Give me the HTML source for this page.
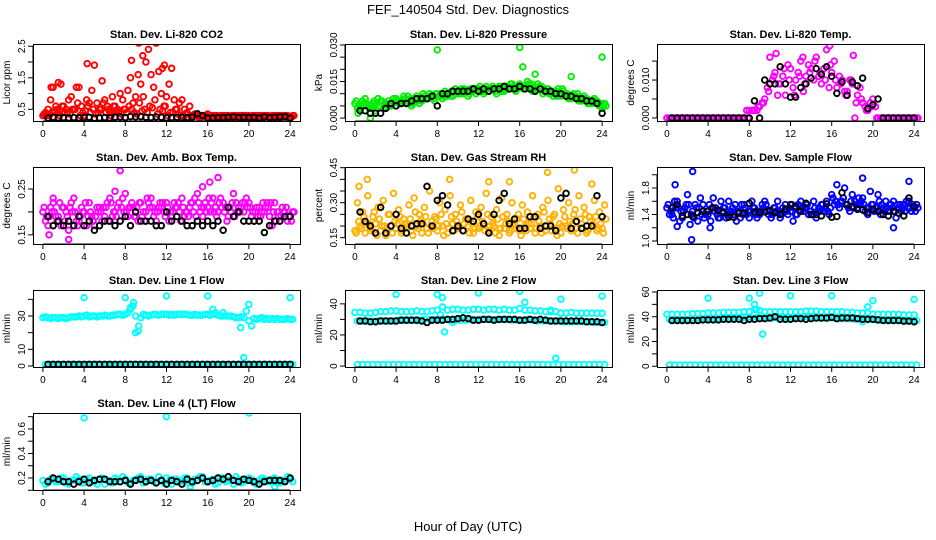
<!DOCTYPE html>
<html><head><meta charset="utf-8"><style>
html,body{margin:0;padding:0;background:#fff;}
svg{display:block;font-family:"Liberation Sans",sans-serif;}
</style></head><body>
<svg id="chart" width="936" height="540" viewBox="0 0 936 540" xmlns="http://www.w3.org/2000/svg">
<rect x="0" y="0" width="936" height="540" fill="#fff"/>
<text x="468" y="14" font-size="13" text-anchor="middle">FEF_140504  Std. Dev. Diagnostics</text>
<text x="468" y="531" font-size="13" text-anchor="middle">Hour of Day (UTC)</text>
</svg>
<script>
const hourTicks = [0,4,8,12,16,20,24];
const titles = ["Stan. Dev. Li-820 CO2","Stan. Dev. Li-820 Pressure","Stan. Dev. Li-820 Temp.","Stan. Dev. Amb. Box Temp.","Stan. Dev. Gas Stream RH","Stan. Dev. Sample Flow","Stan. Dev. Line 1 Flow","Stan. Dev. Line 2 Flow","Stan. Dev. Line 3 Flow","Stan. Dev. Line 4 (LT) Flow"];
const yTitles = ["Licor ppm","kPa","degrees C","degrees C","percent","ml/min","ml/min","ml/min","ml/min","ml/min"];
const yTicks = [[0.5,1,1.5,2,2.5],[0,0.005,0.01,0.015,0.02,0.025,0.03],[0,0.005,0.01,0.015],[0.15,0.2,0.25],[0.15,0.2,0.25,0.3,0.35,0.4,0.45],[1.0,1.2,1.4,1.6,1.8,2.0],[0,10,20,30,40],[0,10,20,30,40],[0,10,20,30,40,50,60],[0.1,0.2,0.3,0.4,0.5,0.6,0.7]];
const yTickLabels = [["0.5","","1.5","","2.5"],["0.000","","","0.015","","","0.030"],["0.000","","0.010",""],["0.15","","0.25"],["0.15","","","0.30","","","0.45"],["1.0","","1.4","","1.8",""],["0","10","","30",""],["0","","20","","40"],["0","","20","","40","","60"],["","0.2","","0.4","","0.6",""]];
const yLims = [[0.13,2.57],[-0.0012,0.0304],[-0.0008,0.0195],[0.130,0.298],[0.123,0.453],[0.955,2.117],[-0.6,45.6],[-0.6,48.9],[-0.6,61.6],[0.102,0.73]];

const co2A=[0.3,0.5,1.2,0.4,0.6,0.8,0.5,1.2,0.3,0.7,1.9,0.5,0.8,0.4,0.6,1.0,0.5,1.5,0.9,1.3,2.0,1.6,2.6,1.0,0.9,1.8,0.5,0.8,0.4,0.3,0.3,0.3,0.35,0.3,0.25,0.3,0.3,0.25,0.3,0.3,0.3,0.25,0.3,0.3,0.25,0.3,0.3,0.3,0.25];
const co2B=[0.4,0.8,0.6,1.3,0.5,0.9,1.2,0.6,0.8,1.1,0.7,1.4,0.6,0.9,0.5,0.8,1.1,0.7,1.6,0.9,2.4,1.2,1.7,0.6,1.3,0.8,0.7,0.5,0.6,0.35,0.3,0.3,0.25,0.3,0.3,0.3,0.25,0.3,0.3,0.3,0.25,0.3,0.3,0.3,0.3,0.25,0.3,0.3,0.3];
const co2C=[0.3,0.4,0.5,0.6,0.4,0.5,0.7,0.4,0.6,0.5,0.4,0.7,0.5,0.6,0.4,0.5,0.6,0.4,0.7,0.5,0.6,0.8,0.5,0.6,0.4,0.5,0.3,0.35,0.3,0.3,0.25,0.3,0.3,0.3,0.3,0.25,0.3,0.3,0.3,0.3,0.3,0.25,0.3,0.3,0.3,0.3,0.3,0.25,0.3];
const co2D=[0.35,0.3,0.45,0.3,0.4,0.35,0.5,0.3,0.45,0.4,0.35,0.5,0.4,0.3,0.45,0.35,0.4,0.5,0.35,0.45,0.4,0.55,0.35,0.45,0.3,0.4,0.35,0.3,0.25,0.3,0.25,0.3,0.25,0.3,0.25,0.3,0.25,0.3,0.25,0.3,0.25,0.3,0.25,0.3,0.25,0.3,0.25,0.3,0.25];
const co2Out=[[4.3,1.95],[9.3,2.6],[9.7,2.2],[8.6,2.05],[11.6,1.8],[11.8,1.9],[0.8,1.2],[1.5,1.35]];
const co2K=[0.22,0.25,0.23,0.24,0.23,0.24,0.23,0.24,0.25,0.22,0.23,0.24,0.23,0.25,0.26,0.24,0.27,0.26,0.27,0.25,0.24,0.26,0.25,0.23,0.24,0.25,0.24,0.24,0.25,0.36,0.3,0.22,0.23,0.24,0.24,0.25,0.26,0.24,0.25,0.24,0.25,0.23,0.26,0.24,0.25,0.26,0.27,0.22];

const prA=[0.006,0.004,0.008,0.005,0.003,0.007,0.006,0.005,0.008,0.006,0.007,0.005,0.009,0.007,0.008,0.009,0.010,0.008,0.010,0.009,0.011,0.010,0.009,0.011,0.012,0.010,0.011,0.012,0.013,0.011,0.012,0.013,0.014,0.012,0.013,0.011,0.012,0.011,0.010,0.011,0.009,0.010,0.008,0.009,0.007,0.008,0.006,0.007,0.004];
const prB=[0.004,0.007,0.005,0.006,0.008,0.004,0.007,0.008,0.006,0.009,0.006,0.008,0.006,0.009,0.010,0.007,0.009,0.011,0.009,0.012,0.010,0.011,0.012,0.010,0.011,0.013,0.012,0.010,0.011,0.013,0.014,0.012,0.013,0.015,0.011,0.014,0.010,0.012,0.009,0.012,0.011,0.008,0.010,0.007,0.009,0.006,0.008,0.005,0.006];
const prC=[0.005,0.006,0.004,0.007,0.005,0.006,0.005,0.007,0.007,0.008,0.008,0.007,0.008,0.008,0.009,0.010,0.010,0.009,0.011,0.010,0.012,0.011,0.011,0.012,0.011,0.012,0.013,0.012,0.012,0.012,0.013,0.013,0.012,0.014,0.012,0.013,0.011,0.010,0.011,0.010,0.010,0.009,0.009,0.008,0.008,0.007,0.007,0.006,0.005];
const prD=[0.007,0.005,0.006,0.004,0.006,0.007,0.005,0.006,0.007,0.007,0.009,0.006,0.007,0.010,0.008,0.008,0.009,0.009,0.010,0.011,0.010,0.012,0.010,0.012,0.013,0.011,0.012,0.011,0.013,0.012,0.014,0.011,0.013,0.013,0.014,0.012,0.013,0.012,0.011,0.009,0.012,0.010,0.009,0.010,0.008,0.006,0.007,0.006,0.005];
const prOut=[[8,0.028],[16,0.029],[24,0.025],[1.5,0.0],[16.3,0.021],[21,0.017],[17.5,0.018],[0.3,0.002]];
const prK=[0.003,0.003,0.002,0.002,0.002,0.004,0.006,0.005,0.006,0.006,0.007,0.008,0.008,0.008,0.009,0.005,0.010,0.010,0.011,0.011,0.011,0.011,0.012,0.011,0.012,0.011,0.012,0.012,0.013,0.012,0.012,0.013,0.012,0.012,0.011,0.012,0.011,0.011,0.010,0.010,0.009,0.009,0.008,0.008,0.007,0.007,0.006,0.002];

const tpA=[0,0,0,0,0,0,0,0,0,0,0,0,0,0,0,0,0.002,0.002,0.003,0.005,0.016,0.012,0.009,0.006,0.013,0.010,0.015,0.011,0.013,0.016,0.009,0.018,0.012,0.008,0.010,0.007,0.009,0.006,0.004,0.002,0.005,0,0,0,0,0,0,0,0];
const tpB=[0,0,0,0,0,0,0,0,0,0,0,0,0,0,0,0.002,0.002,0.002,0.004,0.008,0.010,0.006,0.011,0.014,0.008,0.012,0.007,0.014,0.010,0.011,0.013,0.008,0.015,0.011,0.007,0.010,0,0.008,0.003,0.004,0.003,0,0,0,0,0,0,0,0];
const tpC=[0,0,0,0,0,0,0,0,0,0,0,0,0,0,0,0,0.002,0.003,0.004,0.007,0.011,0.009,0.013,0.010,0.006,0.011,0.009,0.012,0.015,0.012,0.010,0.014,0.010,0.009,0.006,0.010,0.004,0.005,0.002,0.003,0,0,0,0,0,0,0,0,0];
const tpOut=[[10.6,0.017],[13.2,0.016],[15.8,0.019],[18.1,0.0165]];
const tpK=[0,0,0,0,0,0,0,0,0,0,0,0,0,0,0,0,0.0045,0,0.010,0.009,0.009,0.0135,0.009,0.0055,0.0055,0.008,0.009,0.0105,0.013,0.0115,0.0135,0.011,0.0065,0.0095,0.006,0.0095,0.0085,0.0105,0.0025,0.0035,0.005,0,0,0,0,0,0,0];

const abA=[0.20,0.17,0.22,0.19,0.21,0.16,0.23,0.18,0.20,0.22,0.17,0.21,0.19,0.23,0.20,0.18,0.24,0.21,0.19,0.22,0.20,0.23,0.18,0.21,0.22,0.19,0.21,0.23,0.20,0.22,0.24,0.19,0.21,0.23,0.20,0.22,0.19,0.24,0.21,0.20,0.22,0.18,0.21,0.20,0.19,0.22,0.18,0.20,0.19];
const abB=[0.18,0.21,0.19,0.17,0.20,0.22,0.18,0.21,0.17,0.19,0.21,0.18,0.22,0.19,0.21,0.23,0.19,0.21,0.18,0.20,0.22,0.19,0.21,0.20,0.18,0.22,0.20,0.19,0.21,0.23,0.20,0.22,0.20,0.21,0.23,0.21,0.20,0.22,0.21,0.23,0.19,0.21,0.20,0.22,0.17,0.20,0.21,0.18,0.20];
const abC=[0.19,0.20,0.18,0.21,0.19,0.20,0.17,0.20,0.19,0.18,0.20,0.21,0.18,0.20,0.22,0.20,0.21,0.19,0.22,0.18,0.21,0.20,0.22,0.19,0.20,0.21,0.18,0.20,0.22,0.19,0.21,0.20,0.22,0.19,0.21,0.18,0.22,0.20,0.22,0.21,0.20,0.19,0.22,0.21,0.20,0.19,0.20,0.19,0.20];
const abD=[0.21,0.19,0.20,0.22,0.18,0.21,0.20,0.19,0.22,0.20,0.19,0.20,0.21,0.22,0.19,0.21,0.20,0.22,0.21,0.19,0.23,0.21,0.20,0.22,0.21,0.20,0.22,0.21,0.19,0.20,0.22,0.21,0.23,0.20,0.22,0.20,0.21,0.19,0.20,0.22,0.21,0.20,0.19,0.21,0.22,0.18,0.19,0.21,0.18];
const abOut=[[7.5,0.29],[2.5,0.14],[16.2,0.265],[17,0.275],[0.6,0.15],[1,0.23],[7,0.245],[15.5,0.255]];
const abK=[0.19,0.17,0.18,0.17,0.18,0.17,0.19,0.17,0.18,0.16,0.17,0.18,0.18,0.17,0.18,0.19,0.17,0.20,0.18,0.18,0.18,0.17,0.17,0.20,0.18,0.19,0.18,0.17,0.17,0.18,0.17,0.18,0.17,0.18,0.16,0.21,0.19,0.20,0.18,0.18,0.18,0.18,0.155,0.17,0.18,0.18,0.19,0.19];

const rhA=[0.18,0.20,0.17,0.19,0.21,0.18,0.16,0.20,0.19,0.17,0.21,0.18,0.20,0.17,0.19,0.22,0.18,0.20,0.17,0.21,0.19,0.18,0.20,0.17,0.19,0.21,0.18,0.20,0.16,0.19,0.17,0.21,0.18,0.20,0.19,0.17,0.20,0.18,0.21,0.19,0.17,0.20,0.18,0.19,0.21,0.17,0.20,0.18,0.19];
const rhB=[0.30,0.26,0.33,0.24,0.28,0.31,0.25,0.34,0.27,0.23,0.29,0.32,0.25,0.28,0.35,0.24,0.30,0.27,0.33,0.25,0.29,0.23,0.31,0.26,0.28,0.34,0.24,0.27,0.32,0.25,0.30,0.23,0.29,0.26,0.33,0.25,0.28,0.31,0.24,0.36,0.27,0.30,0.25,0.33,0.28,0.24,0.31,0.26,0.29];
const rhC=[0.22,0.24,0.21,0.26,0.23,0.20,0.25,0.22,0.24,0.21,0.23,0.26,0.22,0.24,0.20,0.23,0.25,0.21,0.24,0.22,0.26,0.23,0.21,0.24,0.22,0.25,0.21,0.23,0.24,0.22,0.20,0.25,0.23,0.21,0.24,0.22,0.26,0.23,0.25,0.21,0.24,0.22,0.27,0.23,0.25,0.22,0.24,0.21,0.23];
const rhD=[0.17,0.19,0.21,0.18,0.16,0.20,0.19,0.17,0.21,0.18,0.20,0.16,0.19,0.21,0.17,0.19,0.20,0.16,0.19,0.18,0.20,0.21,0.17,0.19,0.20,0.18,0.20,0.17,0.19,0.21,0.18,0.19,0.16,0.18,0.21,0.19,0.17,0.20,0.18,0.16,0.20,0.19,0.21,0.17,0.19,0.18,0.21,0.19,0.17];
const rhOut=[[1.2,0.40],[9.2,0.40],[13,0.39],[21.3,0.44],[18.7,0.43],[15,0.39],[23,0.38],[0.4,0.37]];
const rhK=[0.26,0.22,0.20,0.17,0.28,0.17,0.20,0.25,0.19,0.17,0.20,0.21,0.21,0.37,0.20,0.31,0.33,0.29,0.18,0.20,0.18,0.23,0.22,0.25,0.21,0.17,0.25,0.31,0.34,0.21,0.23,0.19,0.19,0.24,0.24,0.19,0.20,0.20,0.18,0.32,0.34,0.19,0.22,0.19,0.20,0.20,0.33,0.24];

const sfA=[1.5,1.4,1.6,1.35,1.7,1.45,1.3,1.55,1.4,1.65,1.35,1.5,1.6,1.4,1.45,1.55,1.35,1.5,1.4,1.6,1.45,1.5,1.35,1.55,1.45,1.4,1.6,1.5,1.45,1.35,1.55,1.6,1.7,1.85,1.6,1.55,1.7,1.5,1.65,1.4,1.55,1.7,1.5,1.45,1.6,1.5,1.55,1.6,1.5];
const sfB=[1.4,1.6,1.3,1.5,1.25,1.55,1.65,1.4,1.3,1.5,1.6,1.35,1.45,1.3,1.55,1.4,1.6,1.35,1.55,1.45,1.4,1.6,1.5,1.4,1.3,1.55,1.45,1.4,1.6,1.5,1.45,1.4,1.55,1.5,1.8,1.45,1.6,1.55,1.45,1.75,1.5,1.4,1.6,1.55,1.35,1.45,1.6,1.45,1.55];
const sfC=[1.45,1.5,1.45,1.55,1.4,1.5,1.4,1.45,1.5,1.4,1.45,1.4,1.5,1.45,1.4,1.45,1.5,1.45,1.5,1.4,1.5,1.45,1.45,1.5,1.5,1.45,1.5,1.45,1.5,1.45,1.5,1.5,1.6,1.6,1.55,1.6,1.55,1.6,1.5,1.55,1.5,1.55,1.5,1.5,1.55,1.5,1.5,1.55,1.5];
const sfD=[1.55,1.35,1.5,1.45,1.55,1.35,1.5,1.35,1.55,1.45,1.35,1.5,1.4,1.55,1.35,1.5,1.45,1.4,1.45,1.55,1.35,1.45,1.4,1.45,1.55,1.4,1.5,1.55,1.4,1.45,1.55,1.45,1.65,1.55,1.65,1.5,1.5,1.65,1.55,1.5,1.45,1.6,1.45,1.55,1.45,1.55,1.45,1.5,1.45];
const sfOut=[[2.5,2.05],[2.4,1.02],[0.8,1.85],[19,1.95],[23.5,1.9],[22,1.2],[1,1.22],[4.2,1.2]];
const sfK=[1.5,1.55,1.38,1.4,1.37,1.43,1.45,1.45,1.5,1.46,1.43,1.36,1.36,1.42,1.42,1.57,1.44,1.43,1.44,1.46,1.43,1.40,1.48,1.55,1.52,1.45,1.57,1.40,1.40,1.38,1.56,1.36,1.37,1.73,1.55,1.52,1.48,1.47,1.43,1.48,1.45,1.40,1.38,1.45,1.42,1.38,1.65,1.52];

const l1A=[29,29,29,28.5,29,29,29.5,30,30,29.5,30,30,30.5,30,30.5,31,31,35,30,29,30.5,30.5,31,31,31,31,31,31,31,30.5,30.5,30.5,31,31,30.5,30,30,29.5,29,29,27,28.5,28.5,28,28,28,28,28,28];
const l1B=[29.5,28.5,29,29,28.5,29.5,29.5,29.5,30.5,30,29.5,30,30,30.5,31,30.5,32,36,21,31,30,31,30.5,31,30.5,30.5,31,31,30.5,31,30.5,31,30.5,32,30,30,30,29,29.5,33,24,28,29,28.5,28.5,28.5,28,28.5,28];
const l1Z=[1,1,1,1,1,1,1,1,1,1,1,1,1,1,1,1,1,1,1,1,1,1,1,1,1,1,1,1,1,1,1,1,1,1,1,1,1,1,1,1,1,1,1,1,1,1,1,1,1];
const l1Out=[[4,41],[8,41],[12,42],[16,42],[24,41],[20,37],[8.8,38],[9,20],[9.3,24],[19.5,5],[19.2,23],[16.5,34],[17.5,32],[8.5,34]];
const l1K=[1,1,1,1,1,1,1,1,1,1,1,1,1,1,1,1,1,1,1,1,1,1,1,1,1,1,1,1,1,1,1,1,1,1,1,1,1,1,1,1,1,1,1,1,1,1,1,1];

const l2A=[34.5,34.5,34,34,34.5,35,35,35.5,35.5,35,35,35,35.5,35,35,35.5,36,38,36,36.5,36.5,36,36,36.5,36.5,36,36.5,36.5,36,36.5,36,36,37,36,36,35.5,35.5,35,35,35,34,34,34.5,34,34,34,34,34,34];
const l2B=[29,29,29,29,29,29,29,29,29.5,29.5,29.5,29.5,29.5,30,30,30,30,30,29.5,29.5,29.5,29.5,30,30,30,30,30,30,30,30,29.5,29.5,29.5,30,29.5,29,29,29,29,29,28.5,28.5,28.5,28.5,28.5,28.5,28,28,28];
const l2Z=[1,1,1,1,1,1,1,1,1,1,1,1,1,1,1,1,1,1,1,1,1,1,1,1,1,1,1,1,1,1,1,1,1,1,1,1,1,1,1,1,1,1,1,1,1,1,1,1,1];
const l2Out=[[4,46],[8,46],[8.5,44],[12,47],[16,48],[16.5,41],[20,43],[24,45],[8.7,22],[9.5,28],[19.5,5],[8.3,33],[19,36]];
const l2K=[29,29,28.5,28.5,29,29,29,29,29.5,29.5,29.5,29.5,29,28,29.5,29.5,29.5,30,30,30.5,31,30.5,29.5,29.5,30,30,29.5,30,30,30,30,29.5,29.5,30,29.5,30,29.5,29,29,29,29,29,29,29,28.5,28.5,28.5,28];

const l3A=[42,42,42,42,42,42.5,42.5,42.5,43,43,43,43.5,43.5,43.5,43.5,44,44,46,45,44,44,44,44,44,44,44,44,44.5,44.5,44.5,44,44,44,44,44,43.5,43.5,43,43,43,42,42,42,42,42,42,41.5,41.5,41.5];
const l3B=[38,38,38,38,38,38,38,38,38,38.5,38.5,38.5,38.5,39,39,39,39,39.5,39,39,39,39,39,39,39,39.5,39.5,39.5,39.5,39,39,39,39,38.5,38.5,38.5,38,38,38,38,37.5,37.5,37.5,37.5,37,37,37,37,37];
const l3Z=[1,1,1,1,1,1,1,1,1,1,1,1,1,1,1,1,1,1,1,1,1,1,1,1,1,1,1,1,1,1,1,1,1,1,1,1,1,1,1,1,1,1,1,1,1,1,1,1,1];
const l3Out=[[4,55],[8,55],[8.5,50],[8.7,46],[9,59],[12,57],[16,57],[20,53],[19.5,48],[24,54],[9.3,26],[19,36]];
const l3K=[37,37,37,37,37,37,37.5,37.5,37.5,37.5,38,38,38,38,37,38,38,38.5,38.5,39,40,38,38,38,38.5,38.5,38,38.5,39,39,39,39.5,38.5,39,39,39,38.5,38,38,38,37.5,37,37,37,37,36.5,36.5,36];

const l4A=[0.18,0.16,0.19,0.17,0.20,0.15,0.18,0.19,0.16,0.20,0.17,0.19,0.15,0.18,0.20,0.17,0.19,0.16,0.18,0.21,0.17,0.19,0.16,0.18,0.20,0.15,0.19,0.17,0.20,0.16,0.18,0.21,0.17,0.19,0.16,0.20,0.18,0.15,0.19,0.17,0.20,0.16,0.18,0.19,0.17,0.20,0.16,0.18,0.19];
const l4B=[0.15,0.19,0.17,0.20,0.16,0.18,0.21,0.16,0.19,0.17,0.15,0.20,0.18,0.16,0.19,0.21,0.16,0.18,0.20,0.16,0.19,0.17,0.21,0.16,0.18,0.19,0.17,0.20,0.16,0.19,0.21,0.17,0.18,0.15,0.20,0.17,0.19,0.21,0.16,0.18,0.19,0.15,0.20,0.17,0.19,0.16,0.18,0.21,0.17];
const l4Out=[[4,0.69],[12,0.70],[20,0.73],[14.3,0.13],[22.5,0.13]];
const l4K=[0.17,0.20,0.19,0.17,0.17,0.15,0.17,0.19,0.16,0.18,0.19,0.19,0.17,0.17,0.17,0.18,0.15,0.18,0.19,0.17,0.18,0.16,0.18,0.15,0.18,0.17,0.15,0.19,0.17,0.18,0.20,0.17,0.18,0.20,0.19,0.21,0.18,0.17,0.19,0.18,0.17,0.15,0.17,0.18,0.18,0.18,0.17,0.20];

const panelSeries = [
 [[co2C,0.375,"#ff0000"],[co2D,0.125,"#ff0000"],[co2A,0,"#ff0000"],[co2B,0.25,"#ff0000"]],
 [[prC,0.375,"#00ee00"],[prD,0.125,"#00ee00"],[prA,0,"#00ee00"],[prB,0.25,"#00ee00"]],
 [[tpC,0.375,"#ff00ff"],[tpA,0,"#ff00ff"],[tpB,0.25,"#ff00ff"]],
 [[abC,0.375,"#ff00ff"],[abD,0.125,"#ff00ff"],[abA,0,"#ff00ff"],[abB,0.25,"#ff00ff"]],
 [[rhC,0.375,"#ffb000"],[rhD,0.125,"#ffb000"],[rhA,0,"#ffb000"],[rhB,0.25,"#ffb000"]],
 [[sfC,0.375,"#0000ff"],[sfD,0.125,"#0000ff"],[sfA,0,"#0000ff"],[sfB,0.25,"#0000ff"]],
 [[l1Z,0.25,"#00ffff"],[l1A,0,"#00ffff"],[l1B,0.25,"#00ffff"]],
 [[l2Z,0.25,"#00ffff"],[l2A,0,"#00ffff"],[l2B,0.25,"#00ffff"]],
 [[l3Z,0.25,"#00ffff"],[l3A,0,"#00ffff"],[l3B,0.25,"#00ffff"]],
 [[l4A,0,"#00ffff"],[l4B,0.25,"#00ffff"]]
];
const panelOutliers = [co2Out,prOut,tpOut,abOut,rhOut,sfOut,l1Out,l2Out,l3Out,l4Out];
const panelBlack = [co2K,prK,tpK,abK,rhK,sfK,l1K,l2K,l3K,l4K];
const outColors = ["#ff0000","#00ee00","#ff00ff","#ff00ff","#ffb000","#0000ff","#00ffff","#00ffff","#00ffff","#00ffff"];

const NS="http://www.w3.org/2000/svg";
const svg=document.getElementById('chart');
const colX=[33,345,657], rowY=[44,167,290,413], BW=267, BH=77;
const R=2.8, SW=1.9;

function mk(tag,parent){const e=document.createElementNS(NS,tag);parent.appendChild(e);return e;}

for(let p=0;p<10;p++){
  const bx=colX[p%3], by=rowY[Math.floor(p/3)];
  const [y0,y1]=yLims[p];
  const xs=h=>bx+(h+0.96)/25.92*BW;
  const ys=v=>by+BH-(v-y0)/(y1-y0)*BH;
  const g=mk('g',svg);
  
  
  const clip=mk('clipPath',g); clip.setAttribute('id','c'+p);
  const cr=mk('rect',clip); cr.setAttribute('x',bx);cr.setAttribute('y',by);cr.setAttribute('width',BW);cr.setAttribute('height',BH);
  const t=mk('text',g);
  
  
  t.setAttribute('x',bx+BW/2);t.setAttribute('y',by-6);t.setAttribute('font-size','11');t.setAttribute('font-weight','bold');t.setAttribute('text-anchor','middle');
  t.textContent=titles[p];
  const yt=mk('text',g);
  
  
  yt.setAttribute('font-size','10');yt.setAttribute('text-anchor','middle');
  yt.setAttribute('transform','translate('+(bx-23)+','+(by+BH/2)+') rotate(-90)');
  yt.textContent=yTitles[p];
  const pg=mk('g',g); pg.setAttribute('clip-path','url(#c'+p+')');
  
  
  panelSeries[p].forEach(s=>{
    const [vals,off,col]=s;
    vals.forEach((v,i)=>{
      const c=mk('circle',pg);
      
      
      c.setAttribute('cx',xs(i*0.5+off));c.setAttribute('cy',ys(v));c.setAttribute('r',R);
      c.setAttribute('fill','none');c.setAttribute('stroke',col);c.setAttribute('stroke-width',SW);
    });
  });
  panelOutliers[p].forEach(o=>{
    const c=mk('circle',pg);
    
    
    c.setAttribute('cx',xs(o[0]));c.setAttribute('cy',ys(o[1]));c.setAttribute('r',R);
    c.setAttribute('fill','none');c.setAttribute('stroke',outColors[p]);c.setAttribute('stroke-width',SW);
  });
  panelBlack[p].forEach((v,i)=>{
    const c=mk('circle',pg);
    
    
    c.setAttribute('cx',xs(i*0.5+0.5));c.setAttribute('cy',ys(v));c.setAttribute('r',R);
    c.setAttribute('fill','none');c.setAttribute('stroke','#000');c.setAttribute('stroke-width',SW);
  });
  const b=mk('rect',g);
  
  
  b.setAttribute('x',bx+0.5);b.setAttribute('y',by+0.5);b.setAttribute('width',BW);b.setAttribute('height',BH);
  b.setAttribute('fill','none');b.setAttribute('stroke','#000');b.setAttribute('stroke-width',1);
  const xa=mk('g',g);
  
  
  hourTicks.forEach(h=>{
    const l=mk('line',xa); l.setAttribute('x1',xs(h));l.setAttribute('x2',xs(h));l.setAttribute('y1',by+BH);l.setAttribute('y2',by+BH+5);l.setAttribute('stroke','#000');
    const tx=mk('text',xa);
    
    
    tx.setAttribute('x',xs(h));tx.setAttribute('y',by+BH+16);tx.setAttribute('font-size','10');tx.setAttribute('text-anchor','middle');
    tx.textContent=h;
  });
  const ax=mk('line',xa); ax.setAttribute('x1',xs(0));ax.setAttribute('x2',xs(24));ax.setAttribute('y1',by+BH);ax.setAttribute('y2',by+BH);ax.setAttribute('stroke','#000');
  const ya=mk('g',g);
  
  
  yTicks[p].forEach((v,i)=>{
    const y=ys(v);
    const l=mk('line',ya); l.setAttribute('x1',bx-5);l.setAttribute('x2',bx);l.setAttribute('y1',y);l.setAttribute('y2',y);l.setAttribute('stroke','#000');
    const lab=yTickLabels[p][i];
    if(lab){
      const tx=mk('text',ya);
      
      
      tx.setAttribute('font-size','10');tx.setAttribute('text-anchor','middle');
      tx.setAttribute('transform','translate('+(bx-8)+','+y+') rotate(-90)');
      tx.textContent=lab;
    }
  });
  const ay=mk('line',ya); ay.setAttribute('x1',bx);ay.setAttribute('x2',bx);ay.setAttribute('y1',ys(yTicks[p][0]));ay.setAttribute('y2',ys(yTicks[p][yTicks[p].length-1]));ay.setAttribute('stroke','#000');
}
</script>
</body></html>
